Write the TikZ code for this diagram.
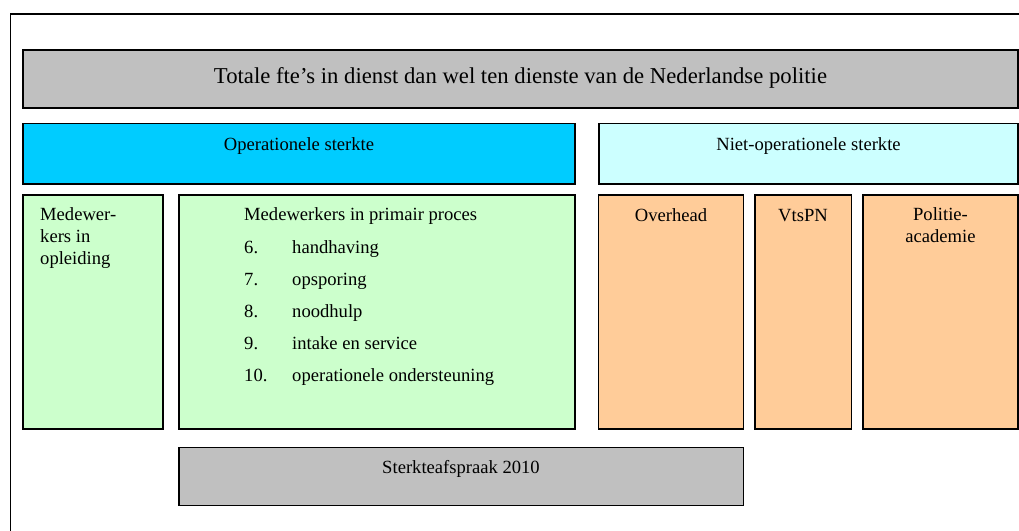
\documentclass[tikz,border=0pt]{standalone}
\usepackage{fontspec}
\setmainfont{Liberation Serif}
\usepackage{tikz}
\usepackage{xcolor}
\definecolor{titelgrijs}{HTML}{C0C0C0}
\definecolor{opblauw}{HTML}{00CCFF}
\definecolor{nietcyaan}{HTML}{CCFFFF}
\definecolor{lichtgroen}{HTML}{CCFFCC}
\definecolor{perzik}{HTML}{FFCC99}
\newcommand{\boxfont}{\fontsize{18.6}{22}\selectfont}
\newcommand{\titelfont}{\fontsize{22.7}{27}\selectfont}
\tikzset{
  blok/.style={draw=black, line width=1.2pt},
  tekst/.style={anchor=base, inner sep=0pt, font=\boxfont, align=center},
}

\begin{document}
\begin{tikzpicture}[x=1pt,y=-1pt]
  \useasboundingbox (0,0) rectangle (1019,530);
  \clip (0,0) rectangle (1019,530);
  % kader
  \draw[line width=1.8pt] (10.5,545) -- (10.5,14) -- (1035,14);
  % bovenste balk
  \draw[blok,fill=titelgrijs] (23,50) rectangle (1018,108);
  \node[tekst,font=\titelfont] (totaal) at (520.5,83) {Totale fte’s in dienst dan wel ten dienste van de Nederlandse politie};
  % operationeel / niet-operationeel
  \draw[blok,fill=opblauw] (23,123.5) rectangle (575,184);
  \draw[blok,fill=nietcyaan] (599,123.5) rectangle (1018,184);
  \node[tekst] (oper) at (299,150) {Operationele sterkte};
  \node[tekst] (nietoper) at (808.5,150) {Niet-operationele sterkte};
  % groene blokken
  \draw[blok,fill=lichtgroen] (23,195) rectangle (163,429);
  \draw[blok,fill=lichtgroen] (179,195) rectangle (575,429);
  \node[tekst,anchor=base west,align=left] (opleiding) at (40,264.7) {Medewer-\\kers in\\opleiding};
  \node[tekst,anchor=base west] (primair) at (244,220.7) {Medewerkers in primair proces};
  \foreach \nr/\txt [count=\i] in {6./handhaving, 7./opsporing, 8./noodhulp,
      9./intake en service, 10./operationele ondersteuning}{
    \node[tekst,anchor=base west] (nr\i) at (244,{221+32*\i}) {\nr};
    \node[tekst,anchor=base west] (taak\i) at (292,{221+32*\i}) {\txt};
  }
  % oranje blokken
  \draw[blok,fill=perzik] (598.5,195) rectangle (743.5,429);
  \draw[blok,fill=perzik] (755,195) rectangle (851.5,429);
  \draw[blok,fill=perzik] (863,195) rectangle (1018,429);
  \node[tekst] (overhead) at (671,221) {Overhead};
  \node[tekst] (vtspn) at (803,221) {VtsPN};
  \node[tekst] (academie) at (940.5,242.7) {Politie-\\academie};
  % onderste balk
  \draw[blok,fill=titelgrijs] (179,447.5) rectangle (743.5,505.5);
  \node[tekst] (afspraak) at (461,473.3) {Sterkteafspraak 2010};
\end{tikzpicture}
\end{document}
